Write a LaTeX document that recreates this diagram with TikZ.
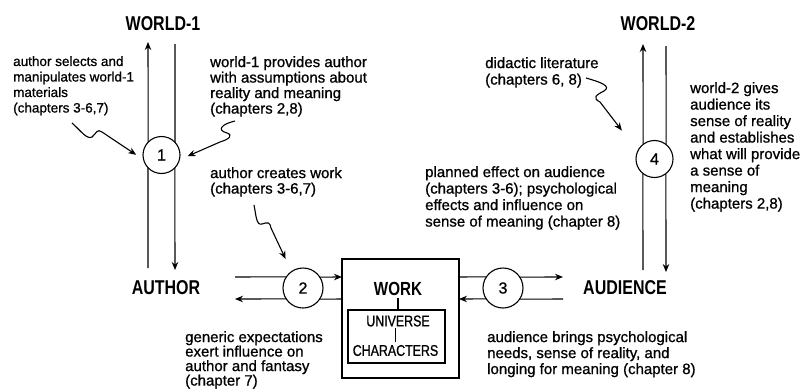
\documentclass[tikz,border=0pt]{standalone}
\usepackage{fontspec}
\setmainfont[FakeBold=0.9]{Liberation Sans}
\newfontfamily\headfont[FakeStretch=0.8]{Liberation Sans}
\newfontfamily\condfont[FakeStretch=0.8,FakeBold=0.9]{Liberation Sans}
\usetikzlibrary{arrows.meta}
\begin{document}
\begin{tikzpicture}[x=1pt,y=-1pt,
  txt/.style={font=\fontsize{15}{15.5}\selectfont, align=left, inner sep=0pt, anchor=north west},
  head/.style={font=\headfont\bfseries\fontsize{20}{20}\selectfont, inner sep=0pt},
  num/.style={circle, draw, line width=1.1pt, minimum size=37pt, inner sep=0pt, outer sep=0pt, font=\fontsize{16}{16}\selectfont},
  numb/.style={num, minimum size=40pt},
  ln/.style={line width=1.1pt},
  arr/.style={ln, -{Stealth[length=8pt,width=6.5pt]}},
  box/.style={draw, line width=1.1pt, inner sep=0pt, outer sep=0pt}
]
\useasboundingbox (0,0) rectangle (803,391);

% headings
\node[head] (world1) at (163,24) {WORLD-1};
\node[head] (world2) at (658,24) {WORLD-2};
\node[head] (author) at (166,288) {AUTHOR};
\node[head] (audience) at (625,288) {AUDIENCE};

% circles
\node[num] (c1) at (161.5,155) {1};
\node[num] (c4) at (654.5,159) {4};
\node[numb] (c2) at (303,288) {2};
\node[numb] (c3) at (503,288) {3};

% work box
\node[box, minimum width=117pt, minimum height=119pt] (workbox) at (400.5,318.5) {};
\node[head, font=\headfont\bfseries\fontsize{19}{19}\selectfont] (work) at (398,289) {WORK};
\node[box, minimum width=97pt, minimum height=53pt] (unibox) at (396.5,336.5) {};
\node[font=\condfont\fontsize{15.5}{15.5}\selectfont, inner sep=0pt] (unitext) at (398,321) {UNIVERSE};
\node[draw, double, double distance=1.2pt, line width=0.7pt, inner sep=0pt, outer sep=0pt,
      minimum width=89pt, minimum height=17pt,
      font=\condfont\fontsize{15.5}{15.5}\selectfont] (chars) at (395.5,350.5) {CHARACTERS};
\draw[ln] (work.south) ++(0,2) -- (unibox.north -| work.south);
\draw[ln] (unitext.south -| chars.north) ++(0,1) -- (chars.north);

% coordinates for free ends
\coordinate (t1L) at (148,42);
\coordinate (t1R) at (175,44);
\coordinate (b1L) at (148,268);
\coordinate (b1R) at (175,270);
\coordinate (t4L) at (643,44);
\coordinate (t4R) at (666,46);
\coordinate (b4L) at (643,270);
\coordinate (b4R) at (666,272);
\coordinate (h2U) at (235,277);
\coordinate (h2D) at (235,299);
\coordinate (h3U) at (563,277);
\coordinate (h3D) at (563,299);

% vertical connectors world-1 / author
\draw[ln] (b1L) -- (c1.223.1);
\draw[arr] (c1.136.9) -- (t1L);
\draw[ln] (t1R) -- (c1.43.1);
\draw[arr] (c1.316.9) -- (b1R);
% vertical connectors world-2 / audience
\draw[ln] (b4L) -- (c4.231.6);
\draw[arr] (c4.128.4) -- (t4L);
\draw[ln] (t4R) -- (c4.51.6);
\draw[arr] (c4.308.4) -- (b4R);
% horizontal connectors author / work
\draw[ln] (h2U) -- (c2.146.6);
\draw[arr] (c2.33.4) -- (workbox.west |- h2U);
\draw[ln] (workbox.west |- h2D) -- (c2.326.6);
\draw[arr] (c2.213.4) -- (h2D);
% horizontal connectors work / audience
\draw[ln] (workbox.east |- h3U) -- (c3.146.6);
\draw[arr] (c3.33.4) -- (h3U);
\draw[ln] (h3D) -- (c3.326.6);
\draw[arr] (c3.213.4) -- (workbox.east |- h3D);

% texts
\node[txt, font=\fontsize{13.5}{15.5}\selectfont] (t1) at (13,56) {author selects and\\manipulates world-1\\materials\\(chapters 3-6,7)};
\node[txt] (t2) at (210,56) {world-1 provides author\\with assumptions about\\reality and meaning\\(chapters 2,8)};
\node[txt] (t3) at (210,167) {author creates work\\(chapters 3-6,7)};
\node[txt, font=\fontsize{15}{14.5}\selectfont] (t4) at (185,331) {generic expectations\\exert influence on\\author and fantasy\\(chapter 7)};
\node[txt, font=\fontsize{15}{16.5}\selectfont] (t5) at (425,166) {planned effect on audience\\(chapters 3-6); psychological\\effects and influence on\\sense of meaning (chapter 8)};
\node[txt, font=\fontsize{15}{16.5}\selectfont] (t6) at (485,57) {didactic literature\\(chapters 6, 8)};
\node[txt, font=\fontsize{15}{16.5}\selectfont] (t7) at (690,82) {world-2 gives\\audience its\\sense of reality\\and establishes\\what will provide\\a sense of\\meaning\\(chapters 2,8)};
\node[txt, font=\fontsize{15}{16}\selectfont] (t8) at (487,331) {audience brings psychological\\needs, sense of reality, and\\longing for meaning (chapter 8)};

% squiggle arrows
\coordinate (s1) at (72,123);
\coordinate (s2) at (235,121);
\coordinate (s3) at (254,205);
\coordinate (s4) at (586,78);
\draw[arr, shorten >=9pt] (s1) .. controls (80,130) and (87,140) .. (92,137)
  .. controls (96,134) and (97,128) .. (102,132) -- (c1.195);
\draw[arr, shorten >=9pt] (s2) .. controls (222,124) and (216,130) .. (227,133)
  .. controls (233,135) and (230,139) .. (220,142) -- (c1.-15);
\draw[arr, shorten >=14pt] (s3) .. controls (256,214) and (256,226) .. (262,224)
  .. controls (268,222) and (270,222) .. (271,228) -- (c2.125);
\draw[arr, shorten >=26pt] (s4) .. controls (600,82) and (612,86) .. (604,91)
  .. controls (596,95) and (592,98) .. (600,102) -- (c4.155);
\end{tikzpicture}
\end{document}
